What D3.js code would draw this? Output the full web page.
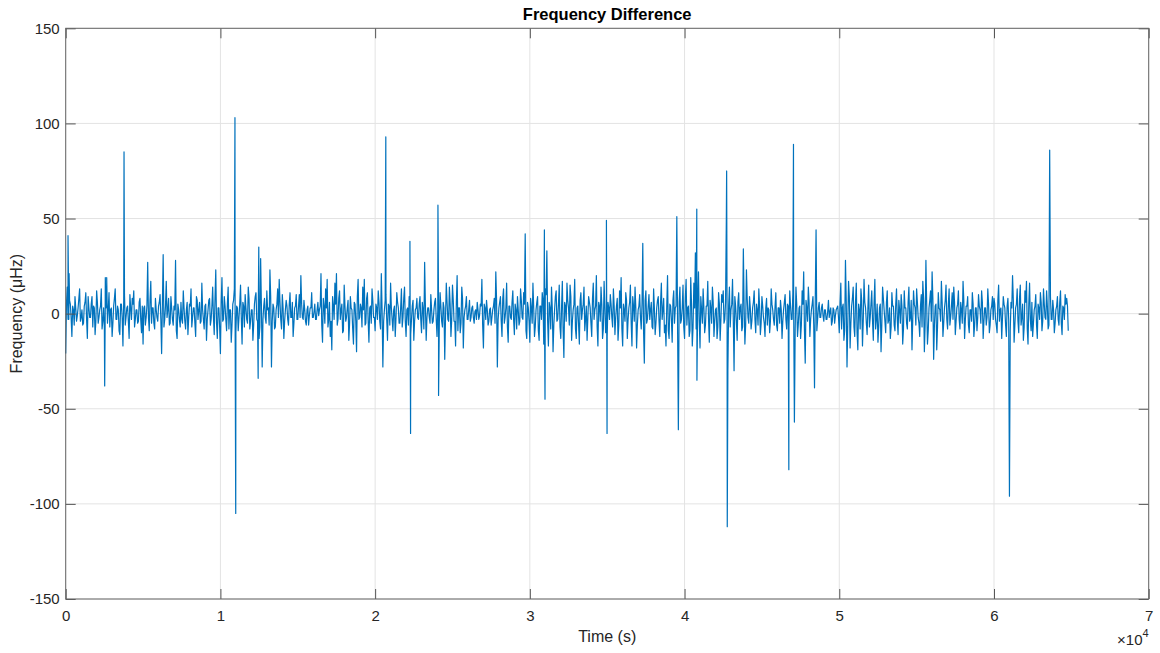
<!DOCTYPE html>
<html>
<head>
<meta charset="utf-8">
<script src="https://cdn.jsdelivr.net/npm/d3@7"></script>
<style>
  body { margin: 0; background: #fff; }
  svg { font-family: "Liberation Sans", Arial, Helvetica, sans-serif; }
</style>
</head>
<body>
<svg id="chart" width="1160" height="653"></svg>
<script>
// Frequency difference trace.
// noise: one sample every timeStep seconds starting at t = 0 (rows of 25 = 2500 s)
var timeStep = 100;
var noise = [
  -21, 14, -3, 5, -12, 2, 9, -4, 3, 13, -2, -6, 4, 11, -13, 3, -2, 9, 4, -11, 12, -5, 2, 13, -4,
  -8, 3, -5, 11, 2, -12, 4, 13, -3, 2, -11, 5, -17, 10, -2, 4, -13, 3, 8, 12, -3, 2, -4, 8, -10,
  -16, 4, -2, 27, -9, 17, 3, -5, 8, -2, 4, 10, -21, 31, -3, 17, 2, -6, 9, -3, 4, 28, -13, 2, -7,
  -3, 12, -4, 2, -11, 5, 13, -2, 3, -12, 7, 2, -5, 16, -3, 4, -14, 2, 8, -3, 14, -11, 23, -13, 3,
  -21, 19, -3, 4, -9, 14, 2, -15, 5, 13, -10, 3, -2, 15, -16, 4, 10, -3, 14, -8, 2, -14, 5, 11, -4,
  -13, 29, -28, 4, -2, 12, 3, 23, -28, 5, -8, 2, 13, 18, -3, 10, -13, 2, 4, -6, 11, -2, -12, 3, 10,
  -3, 10, 20, -2, 7, -4, 2, -6, 3, 11, -2, 5, -3, 6, 2, 21, -15, 4, 13, 18, -3, -12, -19, 4, 16,
  21, -3, 12, 2, -10, 15, -4, 3, -14, 9, 2, -16, 5, -20, 18, -2, 3, 14, 18, -5, 11, -15, 4, 13, -2,
  -9, 3, 12, -4, 21, -28, 2, 10, -14, 4, 16, -3, 2, -12, 11, 3, -5, 13, -2, 14, -12, 3, 9, -11, 4,
  -14, 2, 8, -3, 9, -10, 2, 27, -14, 3, -2, 10, -5, 2, 8, -12, 3, 11, -4, 6, -24, 16, -3, 14, -12,
  15, -4, -17, 20, 3, -10, 14, -18, 2, 9, -3, 7, -2, 4, -5, 2, 6, -3, 5, 18, -18, 3, 7, -6, 2,
  -6, 2, 8, 22, -28, 3, 9, -12, 13, -2, 16, -15, 4, -3, 12, -11, 2, 9, -6, 13, -2, 11, 42, -13, 3,
  -15, 3, 16, -12, 2, 9, -14, 4, 11, -16, 13, 33, -17, 3, 14, -20, 2, 12, -3, 15, -13, 17, -23, 4, 16,
  3, 15, -14, 2, 18, -13, 4, -16, 11, 2, 14, -3, -14, 9, 3, -12, 16, 2, 20, -17, 4, 14, -13, 17, -10,
  -12, 3, 10, -2, 13, -11, 4, -14, 12, 19, -17, 2, 11, -13, 3, 15, -17, 4, 14, -18, 2, 10, -8, 37, -26,
  12, -3, 10, 2, -7, 13, -11, 3, 9, -12, 16, 2, -10, -17, 20, -13, 4, -15, 12, 3, 51, -61, 14, -3, 15,
  -13, 18, 3, -12, 19, -17, 16, 32, -35, 22, -18, 2, 13, -10, 4, 17, -15, 3, 14, -12, 2, -13, 11, -14, 10,
  12, -3, 49, -30, 14, 2, 18, -30, 4, -14, 11, 3, -9, 34, -16, 23, -2, 9, -8, 3, 12, -10, 2, 13, -11,
  9, -2, -12, 8, 3, -10, 13, 2, -6, 11, -9, 3, 7, -13, 2, 10, -8, 4, 12, -3, 11, -57, 14, -12, 3,
  -13, 12, 22, -26, 3, 14, -12, 2, 9, -39, 44, -3, 6, -2, 5, -4, 2, -3, 7, 1, -6, 3, -5, 2, 4,
  -10, 16, 3, -14, 28, -28, 17, -18, 4, 14, -12, 16, -19, 2, 13, -17, 18, 3, -11, 15, -2, 12, -14, 18, -3,
  -15, 3, -20, 14, 2, -10, 12, -3, -13, 11, 4, -9, 13, -11, 2, 10, -16, 12, 3, -8, 14, -2, -19, 12, 3,
  13, -2, -12, 10, 17, -20, 28, -16, 3, 12, 22, -24, 4, -19, 11, 2, 17, -12, 3, 15, -8, 13, -2, 11, 14,
  -11, 3, 12, -8, 2, 17, -13, 4, 9, -10, 2, 11, -12, 3, -9, 10, 2, 12, -13, 3, -6, 13, -10, 2, 9,
  8, -3, -10, 15, 2, -13, 9, 3, -12, 8, -96, 6, 20, -15, 3, 13, -10, 15, -2, -14, 12, 17, -16, 16, -9,
  -12, 2, 10, -13, 3, 11, -9, 13, -2, 12, -8, 86, -3, 7, -10, 2, 9, -6, 12, -11, 3, 10, 8, -9
];

// the smaller in-between samples, at t = 50 + i * timeStep
var noiseHalf = [
  5, -3, 7, -2, 4, -6, 3, -1, 8, -4, 2, -5, 6, -3, 9, -2, 5, -7, 3, -4, 6, -2, 4, -8, 3,
  -4, 6, 2, -7, 3, -5, 8, -3, 4, -9, 5, -2, 7, -6, 3, -4, 10, -3, 5, -7, 2, -5, 6, -3, 4,
  3, -6, 4, -2, 7, -5, 3, -8, 2, -4, 6, -3, 5, -7, 4, -2, 8, -5, 3, -6, 2, -9, 5, -3, 6,
  -5, 3, -8, 6, -2, 4, -7, 3, -5, 9, -3, 6, -4, 2, -8, 5, -3, 7, -6, 4, -2, 8, -5, 3, -7,
  6, -4, 9, -3, 5, -8, 2, -6, 7, -3, 4, -9, 5, -2, 6, -7, 3, -5, 8, -4, 2, -6, 9, -3, 5,
  -7, 4, -3, 8, -5, 2, -6, 9, -4, 3, -7, 5, -2, 6, -8, 3, -4, 7, -3, 5, -2, 6, -5, 4, -3,
  4, -2, 5, -3, 2, -6, 4, -1, 3, -2, 1, -3, 2, -1, 4, -6, 8, -5, 3, -7, 6, -4, 9, -3, 5,
  -6, 8, -3, 5, -9, 4, -2, 7, -5, 3, -8, 6, -4, 9, -3, 5, -7, 2, -6, 8, -4, 3, -5, 7, -2,
  5, -3, 6, -8, 2, -4, 7, -3, 5, -6, 3, -9, 4, -2, 6, -5, 3, -7, 8, -4, 2, -6, 5, -3, 7,
  -4, 3, -2, 5, -3, 6, -8, 4, -2, 3, -5, 2, -4, 6, -3, 2, -5, 4, -7, 3, -2, 6, -4, 5, -3,
  7, -4, 6, -9, 3, -5, 8, -2, 4, -3, 2, -4, 3, -2, 1, -3, 2, -1, 4, -6, 5, -3, 2, -4, 3,
  -2, 4, -5, 7, -3, 6, -4, 8, -5, 3, -7, 4, -2, 6, -3, 5, -8, 2, -4, 7, -3, 5, -9, 6, -4,
  8, -5, 3, -7, 6, -9, 4, -3, 7, -5, 10, -4, 6, -8, 3, -6, 9, -4, 5, -7, 3, -8, 6, -4, 7,
  -6, 9, -4, 5, -8, 3, -6, 7, -3, 5, -9, 4, -2, 6, -5, 8, -3, 4, -7, 6, -4, 5, -8, 3, -5,
  6, -3, 5, -7, 4, -2, 8, -6, 3, -8, 5, -4, 7, -3, 6, -5, 9, -4, 3, -6, 4, -2, 5, -9, 7,
  -5, 4, -3, 6, -8, 3, -5, 7, -4, 6, -3, 8, -6, 4, -9, 5, -3, 7, -5, 4, -8, 6, -5, 3, -7,
  8, -6, 4, -9, 5, -7, 3, -8, 6, -4, 9, -5, 3, -6, 4, -3, 7, -5, 6, -4, 3, -7, 5, -3, 6,
  -5, 6, -8, 4, -7, 5, -3, 9, -4, 6, -3, 5, -7, 4, -6, 8, -5, 3, -4, 6, -3, 5, -6, 4, -5,
  4, -5, 3, -6, 2, -4, 5, -3, 4, -6, 3, -5, 2, -4, 6, -3, 5, -7, 4, -3, 6, -8, 5, -6, 4,
  -6, 5, -9, 7, -4, 6, -3, 5, -6, 8, -9, 3, -2, 3, -1, 2, -3, 1, -2, 3, -4, 2, -1, 3, -2,
  6, -8, 5, -9, 7, -6, 9, -5, 8, -7, 6, -10, 5, -8, 7, -4, 6, -5, 3, -7, 5, -4, 6, -8, 5,
  -7, 5, -6, 8, -4, 6, -5, 3, -7, 4, -6, 5, -3, 7, -5, 4, -8, 3, -5, 6, -4, 7, -3, 5, -6,
  6, -5, 4, -7, 8, -6, 5, -9, 7, -4, 8, -6, 5, -7, 3, -4, 6, -5, 7, -3, 5, -6, 4, -3, 6,
  -4, 5, -3, 6, -5, 7, -3, 4, -6, 2, -4, 5, -6, 3, -2, 4, -5, 6, -4, 3, -2, 5, -6, 4, -3,
  5, -6, 7, -4, 3, -2, 5, -6, 4, -3, -9, 3, 7, -6, 5, -4, 8, -6, 5, -7, 6, -8, 5, -3, 6,
  -5, 4, -6, 5, -3, 6, -4, 5, -3, 4, -6, 9, -3, 2, -5, 4, -3, 6, -5, 4, -3, 5, 4
];

// isolated spikes that fall between the regular samples
var spikeTimes  = [150, 220, 2520, 2560, 2650, 3770, 10940, 10990, 12440, 12480, 20690, 22250, 22290,
                   24060, 24100, 30940, 30980, 34950, 34990, 40790, 42720, 42760, 46740, 47040];
var spikeValues = [41, 21, -38, 19, 19, 85, 103, -105, -34, 35, 93, 38, -63,
                   57, -43, 44, -45, 49, -63, 55, 75, -112, -82, 89];

var xTicks = [0, 10000, 20000, 30000, 40000, 50000, 60000, 70000];
var yTicks = [-150, -100, -50, 0, 50, 100, 150];

var plot = { left: 65.7, right: 1148.7, top: 28.3, bottom: 599 };

var svg = d3.select("#chart");

var x = d3.scaleLinear().domain([0, 70000]).range([plot.left, plot.right]);
var y = d3.scaleLinear().domain([-150, 150]).range([plot.bottom, plot.top]);

// merge the regular samples, the half-step samples and the spikes into one series
var series = noise.map(function(v, i) { return { t: i * timeStep, v: v }; });
noiseHalf.forEach(function(v, i) { series.push({ t: timeStep / 2 + i * timeStep, v: v }); });
spikeTimes.forEach(function(t, i) { series.push({ t: t, v: spikeValues[i] }); });
series.sort(function(a, b) { return a.t - b.t; });

// grid
var grid = svg.append("g").attr("class", "grid")
    .attr("stroke", "#e3e3e3").attr("stroke-width", 1);
grid.selectAll("line.gx").data(xTicks).enter().append("line")
    .attr("x1", function(d) { return x(d); }).attr("x2", function(d) { return x(d); })
    .attr("y1", plot.top).attr("y2", plot.bottom);
grid.selectAll("line.gy").data(yTicks).enter().append("line")
    .attr("y1", function(d) { return y(d); }).attr("y2", function(d) { return y(d); })
    .attr("x1", plot.left).attr("x2", plot.right);

// the trace
var line = d3.line()
    .x(function(d) { return x(d.t); })
    .y(function(d) { return y(d.v); });

svg.append("path")
    .datum(series)
    .attr("d", line)
    .attr("fill", "none")
    .attr("stroke", "#0072BD")
    .attr("stroke-width", 1.2)
    .attr("stroke-linejoin", "round");

// axes, MATLAB style: ticks point inwards on all four sides
var tickLen = 10;
function plainNum(d) { return String(d); }   // keep the ascii hyphen like the original
function styleAxis(g) {
    g.select(".domain").remove();
    g.selectAll(".tick line").attr("stroke", "#555");
    g.selectAll(".tick text")
        .attr("fill", "#262626")
        .style("font-size", "15px");
}

svg.append("g")
    .attr("transform", "translate(0," + plot.bottom + ")")
    .call(d3.axisBottom(x).tickValues(xTicks).tickSize(-tickLen).tickPadding(11)
        .tickFormat(function(d) { return plainNum(d / 10000); }))
    .call(styleAxis);

svg.append("g")
    .attr("transform", "translate(0," + plot.top + ")")
    .call(d3.axisTop(x).tickValues(xTicks).tickSize(-tickLen).tickFormat(""))
    .call(styleAxis);

svg.append("g")
    .attr("transform", "translate(" + plot.left + ",0)")
    .call(d3.axisLeft(y).tickValues(yTicks).tickSize(-tickLen).tickPadding(6).tickFormat(plainNum))
    .call(styleAxis);

svg.append("g")
    .attr("transform", "translate(" + plot.right + ",0)")
    .call(d3.axisRight(y).tickValues(yTicks).tickSize(-tickLen).tickFormat(""))
    .call(styleAxis);

// box
svg.append("rect")
    .attr("x", plot.left).attr("y", plot.top)
    .attr("width", plot.right - plot.left).attr("height", plot.bottom - plot.top)
    .attr("fill", "none").attr("stroke", "#666").attr("stroke-width", 1);

// labels
var midX = (plot.left + plot.right) / 2;

svg.append("text")
    .attr("x", midX).attr("y", 20)
    .attr("text-anchor", "middle")
    .attr("font-weight", "bold")
    .attr("font-size", 16.5)
    .attr("fill", "#000")
    .text("Frequency Difference");

svg.append("text")
    .attr("x", midX).attr("y", 642)
    .attr("text-anchor", "middle")
    .attr("font-size", 16)
    .attr("fill", "#262626")
    .text("Time (s)");

svg.append("text")
    .attr("transform", "translate(22," + ((plot.top + plot.bottom) / 2) + ") rotate(-90)")
    .attr("text-anchor", "middle")
    .attr("font-size", 16)
    .attr("fill", "#262626")
    .text("Frequency (\u03BCHz)");

// x exponent
var expo = svg.append("text")
    .attr("x", plot.right).attr("y", 645)
    .attr("text-anchor", "end")
    .attr("fill", "#262626")
    .attr("font-size", 15);
expo.append("tspan").text("\u00D710");
expo.append("tspan").attr("dy", -8).attr("font-size", 11).text("4");
</script>
</body>
</html>
